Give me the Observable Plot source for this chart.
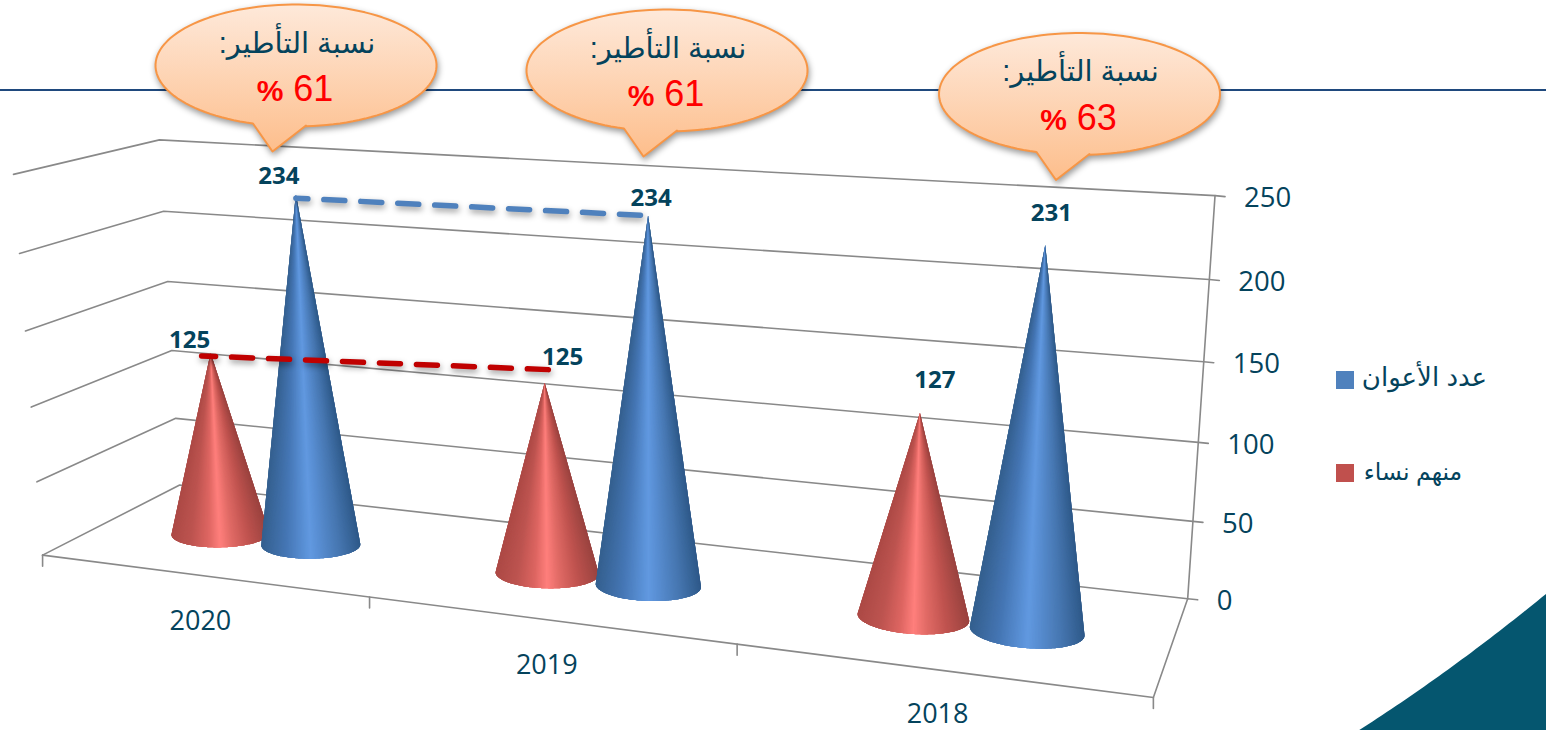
<!DOCTYPE html>
<html><head><meta charset="utf-8">
<script src="https://cdn.jsdelivr.net/npm/d3@7"></script>
<script src="https://cdn.jsdelivr.net/npm/@observablehq/plot@0.6"></script>
<style>html,body{margin:0;padding:0;background:#fff}svg{display:block}</style>
</head><body><div id="c"></div>
<script>
// ---------- chart values ----------
const years = ["2020", "2019", "2018"];
const totalStaff = [234, 234, 231];
const women = [125, 125, 127];
const supervisionRate = [61, 61, 63];
const valueTicks = [0, 50, 100, 150, 200, 250];
const nameStaff = "عدد الأعوان";
const nameWomen = "منهم نساء";
const calloutTitle = "نسبة التأطير:";

// ---------- styles ----------
const INK = "#04435c", GRID = "#898989";
const SANS = "'Open Sans'", ARAB = "'Liberation Sans','Noto Sans','DejaVu Sans'";
const W = 1546, H = 730;

// ---------- perspective calibration of the chart box read from its frame ----------
// u along the categories, d in depth, value up
const frameLevels = [0, 50, 100, 150, 200, 250];
const frameFrontLeft = [[42,555],[36,482],[31,407],[25,331],[19,253],[14,173]];
const frameBackLeft  = [[180,484],[175,418],[171,350],[168,281],[163,211],[158,139]];
const frameBackRight = [[1187,598],[1192,521],[1199,442],[1203,362],[1209,279],[1214,195]];
const frameFloorFront = [[1/3,368,596],[2/3,737,643],[1,1153,697]];

function solve(A, b) {
  const n = b.length, M = A.map((r, i) => [...r, b[i]]);
  for (let i = 0; i < n; i++) {
    let p = i;
    for (let k = i + 1; k < n; k++) if (Math.abs(M[k][i]) > Math.abs(M[p][i])) p = k;
    [M[i], M[p]] = [M[p], M[i]];
    for (let k = i + 1; k < n; k++) {
      const f = M[k][i] / M[i][i];
      for (let j = i; j <= n; j++) M[k][j] -= f * M[i][j];
    }
  }
  const x = Array(n).fill(0);
  for (let i = n - 1; i >= 0; i--) {
    let s = M[i][n];
    for (let j = i + 1; j < n; j++) s -= M[i][j] * x[j];
    x[i] = s / M[i][i];
  }
  return x;
}
const samples = [];
frameLevels.forEach((v, i) => {
  samples.push([0, 0, v / 250, ...frameFrontLeft[i]]);
  samples.push([0, 1, v / 250, ...frameBackLeft[i]]);
  samples.push([1, 1, v / 250, ...frameBackRight[i]]);
});
frameFloorFront.forEach(([u, x, y]) => samples.push([u, 0, 0, x, y]));
const cam = (() => {
  const rows = [], rhs = [];
  for (const [X, Y, Z, px, py] of samples) {
    const x = px / 1000, y = py / 1000;
    rows.push([X, Y, Z, 1, 0, 0, 0, 0, -x * X, -x * Y, -x * Z]); rhs.push(x);
    rows.push([0, 0, 0, 0, X, Y, Z, 1, -y * X, -y * Y, -y * Z]); rhs.push(y);
  }
  const n = 11, AtA = d3.range(n).map(() => Array(n).fill(0)), Atb = Array(n).fill(0);
  rows.forEach((r, k) => {
    for (let i = 0; i < n; i++) {
      Atb[i] += r[i] * rhs[k];
      for (let j = 0; j < n; j++) AtA[i][j] += r[i] * r[j];
    }
  });
  return solve(AtA, Atb);
})();
function project(u, d, value) {
  const Z = value / 250, q = cam;
  const w = q[8] * u + q[9] * d + q[10] * Z + 1;
  return {
    x: 1000 * (q[0] * u + q[1] * d + q[2] * Z + q[3]) / w,
    y: 1000 * (q[4] * u + q[5] * d + q[6] * Z + q[7]) / w
  };
}

// ---------- cones ----------
const clusterOffset = 0.048, clusterShift = 0.002, coneRadiusU = 0.047, coneRadiusD = 0.17, coneDepth = 0.47;
const redShade = d3.scaleLinear().domain([-1,-.6,-.25,0,.25,.6,1])
  .range(["#ad4a46","#bd5450","#dd6561","#ff7f7c","#e06a65","#c0534f","#9b4440"]);
const blueShade = d3.scaleLinear().domain([-1,-.5,-.1,0,.15,.6,1])
  .range(["#35608f","#4576b4","#5b92d8","#6199e0","#5a90d5","#4676b0","#2f5a8a"]);

// Painter's fan: each facet reaches a few rim steps ahead and is covered by the next one, so no seams show.
function coneFacets(id, u, value, shade) {
  const apex = project(u, coneDepth, value);
  const rim = d3.range(0, 240).map(i => {
    const a = i / 240 * 2 * Math.PI;
    const p = project(u + coneRadiusU * Math.cos(a), coneDepth + coneRadiusD * Math.sin(a), 0);
    return [p.x, p.y];
  });
  const hull = d3.polygonHull([...rim, [apex.x, apex.y]]);
  const k = hull.findIndex(p => p[0] === apex.x && p[1] === apex.y);
  const arc = [...hull.slice(k + 1), ...hull.slice(0, k)];
  const [x0, x1] = d3.extent(arc, p => p[0]);
  const sign = arc[0][0] < arc[arc.length - 1][0] ? 1 : -1;
  const ordered = sign > 0 ? arc : arc.slice().reverse();
  const out = [];
  for (let i = 0; i + 1 < ordered.length; i++) {
    const t = 2 * ((ordered[i][0] + ordered[i + 1][0]) / 2 - x0) / (x1 - x0) - 1;
    const c = d3.rgb(shade(t)).formatHex(), z = `${id}-${i}`;
    out.push({x: apex.x, y: apex.y, z, c});
    ordered.slice(i, i + 5).forEach(p => out.push({x: p[0], y: p[1], z, c}));
  }
  return out;
}
const categoryU = i => (i + 0.5) / years.length;
const coneU = i => categoryU(i) + clusterShift;
const facets = years.flatMap((_, i) => [
  ...coneFacets(`r${i}`, coneU(i) - clusterOffset, women[i], redShade),
  ...coneFacets(`b${i}`, coneU(i) + clusterOffset, totalStaff[i], blueShade)
]);
const womenTop = years.map((_, i) => project(coneU(i) - clusterOffset, coneDepth, women[i]));
const staffTop = years.map((_, i) => project(coneU(i) + clusterOffset, coneDepth, totalStaff[i]));

// ---------- frame ----------
const gridLines = valueTicks.flatMap(v => {
  const end = project(1, 1, v);
  return [project(0, 0, v), project(0, 1, v), end, {x: end.x + 10, y: end.y + 1}].map(p => ({...p, z: v}));
});
const floorEdges = [project(1, 1, 0), project(1, 0, 0), project(0, 0, 0)];
const rightPost = [project(1, 1, 0), project(1, 1, 250)];
const frontTicks = d3.range(0, years.length + 1).flatMap(i => {
  const p = project(i / years.length, 0, 0);
  return [{...p, z: i}, {x: p.x, y: p.y + 11, z: i}];
});

// ---------- callouts ----------
const calloutCenters = [[295.5, 65], [666.5, 70], [1079, 93.5]];
const calloutRx = 140.5, calloutRy = 61;
const tailLeft = [-43, 58], tailTip = [-23.5, 86], tailRight = [10, 60];
function calloutShape([cx, cy], z) {
  const ang = ([dx, dy]) => Math.atan2(dy / calloutRy, dx / calloutRx);
  const a0 = ang(tailRight), a1 = ang(tailLeft) - 2 * Math.PI;
  const pts = d3.range(0, 121).map(i => {
    const a = a0 + (a1 - a0) * i / 120;
    return {x: cx + calloutRx * Math.cos(a), y: cy + calloutRy * Math.sin(a), z};
  });
  pts.push({x: cx + tailLeft[0], y: cy + tailLeft[1], z}, {x: cx + tailTip[0], y: cy + tailTip[1], z},
           {x: cx + tailRight[0], y: cy + tailRight[1], z}, pts[0]);
  return pts;
}

// ---------- decoration ----------
const cornerFrom = [1358, 730], cornerCtrl = [1452, 670], cornerTo = [1546, 593];
const cornerEdge = [
  ...d3.range(0, 41).map(i => {
    const t = i / 40, s = 1 - t;
    return {
      x: s * s * cornerFrom[0] + 2 * s * t * cornerCtrl[0] + t * t * cornerTo[0],
      y: s * s * cornerFrom[1] + 2 * s * t * cornerCtrl[1] + t * t * cornerTo[1]
    };
  }),
  {x: W, y: H}
];
const headerRule = [{x: 0, y: 89.5}, {x: W, y: 89.5}];

const defs = () => {
  const d = d3.create("svg:defs");
  const g = d.append("linearGradient").attr("id", "calloutFill").attr("x1", 0).attr("x2", 0).attr("y1", 0).attr("y2", 1);
  g.append("stop").attr("offset", "0").attr("stop-color", "#fee9da");
  g.append("stop").attr("offset", "1").attr("stop-color", "#fdbe8c");
  return d.node();
};
const shadow = "drop-shadow(1px 3px 3px rgba(0,0,0,.4))";
const frameStyle = {x: "x", y: "y", stroke: GRID, strokeWidth: 1.6};

const chart = Plot.plot({
  width: W, height: H, margin: 0,
  style: {background: "#fff"},
  x: {domain: [0, W], range: [0, W], axis: null},
  y: {domain: [0, H], range: [0, H], axis: null},
  color: {type: "identity"},
  marks: [
    defs,
    Plot.line(cornerEdge, {x: "x", y: "y", fill: "#05566f"}),
    Plot.line(headerRule, {x: "x", y: "y", stroke: "#1f497d", strokeWidth: 2}),
    Plot.line(gridLines, {...frameStyle, z: "z"}),
    Plot.line(floorEdges, frameStyle),
    Plot.line(rightPost, frameStyle),
    Plot.line(frontTicks, {...frameStyle, z: "z"}),
    Plot.text(valueTicks, {
      x: v => project(1, 1, v).x + 29, y: v => project(1, 1, v).y + 2.5,
      text: d => `${d}`, textAnchor: "start", fontFamily: SANS, fontSize: 27.5, fill: INK
    }),
    Plot.text(years, {
      x: (_, i) => project(categoryU(i), 0, 0).x - 1, y: (_, i) => project(categoryU(i), 0, 0).y + [45.5, 45.5, 44][i],
      text: d => d, fontFamily: SANS, fontSize: 27, fill: INK
    }),
    Plot.line(facets, {x: "x", y: "y", z: "z", fill: "c"}),
    Plot.line(staffTop.slice(0, 2).map((p, i) => ({x: p.x, y: p.y + (i ? 0 : 4)})), {
      x: "x", y: "y", stroke: "#4f81bd", strokeWidth: 5.5, strokeDasharray: "21 16", strokeDashoffset: 9, imageFilter: shadow
    }),
    Plot.line(womenTop.slice(0, 2).map((p, i) => ({x: p.x + (i ? 6 : -9), y: p.y + (i ? -13 : 3)})), {
      x: "x", y: "y", stroke: "#c00000", strokeWidth: 5.5, strokeDasharray: "21 16", strokeDashoffset: 7, imageFilter: shadow
    }),
    Plot.text(totalStaff, {
      x: (_, i) => staffTop[i].x + [-17, 3, 6][i], y: (_, i) => staffTop[i].y - [18, 17, 32][i],
      text: d => `${d}`, fontFamily: SANS, fontWeight: 700, fontSize: 24, fill: INK
    }),
    Plot.text(women, {
      x: (_, i) => womenTop[i].x + [-21, 18, 15][i], y: (_, i) => womenTop[i].y - [13, 25, 33][i],
      text: d => `${d}`, fontFamily: SANS, fontWeight: 700, fontSize: 24, fill: INK
    }),
    ...calloutCenters.map((c, i) => Plot.line(calloutShape(c, i), {
      x: "x", y: "y", fill: "url(#calloutFill)", stroke: "#f79646", strokeWidth: 2, imageFilter: shadow
    })),
    Plot.text(calloutCenters, {
      x: c => c[0] + 1, y: c => c[1] - 22, text: () => calloutTitle,
      fontFamily: ARAB, fontSize: 29, fill: INK, className: "ar"
    }),
    Plot.text(supervisionRate, {
      x: (_, i) => calloutCenters[i][0] - 1, y: (_, i) => calloutCenters[i][1] + 24,
      text: d => `% ${d}`, fontFamily: ARAB, fontSize: 36, fill: "#ff0000", className: "rate"
    }),
    Plot.rect([nameStaff, nameWomen], {
      x1: () => 1336, x2: () => 1354, y1: (_, i) => [371, 464][i], y2: (_, i) => [389, 482][i],
      fill: (_, i) => ["#4f81bd", "#c0504d"][i]
    }),
    Plot.text([nameStaff, nameWomen], {
      x: (_, i) => [1424, 1412.5][i], y: (_, i) => [377, 472][i], text: d => d,
      fontSize: (_, i) => [26, 23.5][i], fontFamily: ARAB, fill: INK, className: "ar"
    })
  ]
});
d3.select(chart).selectAll(".ar").attr("direction", "rtl");
// the percent sign of each rate is set bold and a little smaller
d3.select(chart).selectAll(".rate text").each(function () {
  const t = d3.select(this), s = t.text();
  t.text(null);
  t.append("tspan").attr("font-weight", 700).attr("font-size", 30).text(s.slice(0, 1));
  t.append("tspan").text(s.slice(1));
});
document.getElementById("c").append(chart);
</script></body></html>
